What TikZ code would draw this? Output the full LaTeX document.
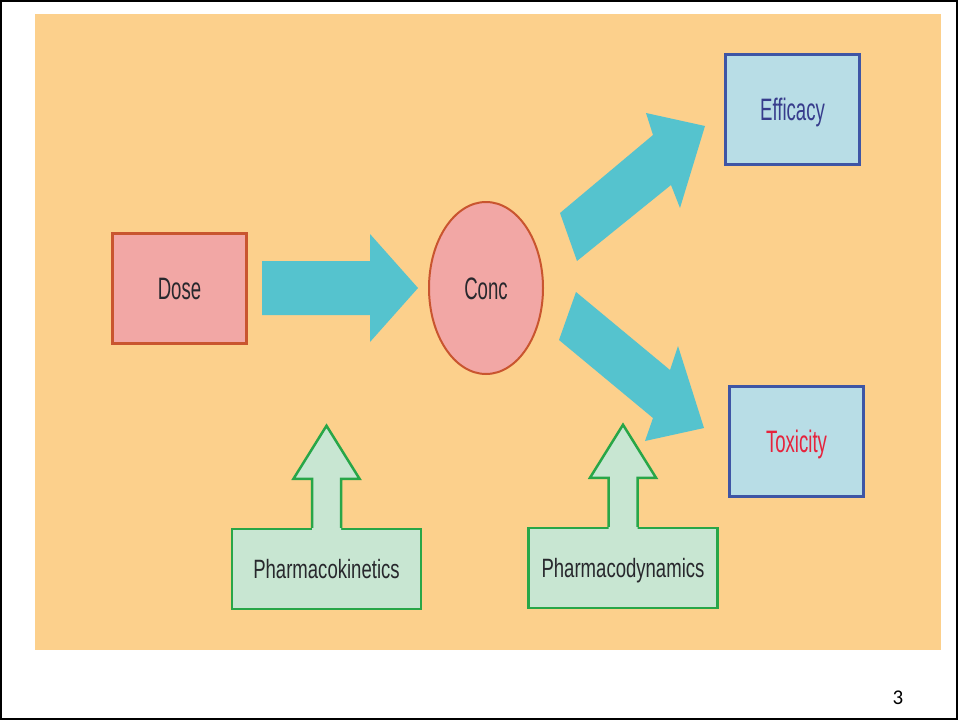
\documentclass[tikz,border=0pt]{standalone}
\usepackage{fontspec}
\setmainfont{Liberation Sans}
\newfontfamily\boxfont{Liberation Sans}[FakeStretch=0.6]
\newfontfamily\sidefont{Liberation Sans}[FakeStretch=0.7]
\newfontfamily\pagefont{Carlito}
\usepackage{xcolor}
\usepackage{tikz}
\usetikzlibrary{calc,shapes.geometric,positioning}

\definecolor{panel}{RGB}{252,208,140}
\definecolor{fatcyan}{RGB}{85,195,206}
\definecolor{dosefill}{RGB}{242,167,165}
\definecolor{doseline}{RGB}{201,85,47}
\definecolor{outfill}{RGB}{184,221,230}
\definecolor{outblue}{RGB}{62,85,165}
\definecolor{effblue}{RGB}{55,60,140}
\definecolor{toxred}{RGB}{230,35,60}
\definecolor{sidefill}{RGB}{200,230,210}
\definecolor{sideline}{RGB}{40,166,72}
\definecolor{darktext}{RGB}{40,40,45}

\tikzset{
  dosebox/.style={rectangle,draw=doseline,line width=3pt,fill=dosefill,
    minimum width=134pt,minimum height=110pt,text=darktext,
    text height=22pt,text depth=0pt,font=\boxfont\fontsize{31}{36}\selectfont},
  concell/.style={ellipse,draw=doseline,line width=2pt,fill=dosefill,inner sep=0pt,
    minimum width=114pt,minimum height=172pt,text=darktext,
    text height=22pt,text depth=0pt,font=\boxfont\fontsize{31}{36}\selectfont},
  outbox/.style={rectangle,draw=outblue,line width=3pt,fill=outfill,
    minimum width=134pt,minimum height=110pt,
    text height=22pt,text depth=0pt,font=\boxfont\fontsize{31}{36}\selectfont},
  sidebox/.style={rectangle,draw=sideline,line width=2.5pt,fill=sidefill,
    minimum width=189pt,minimum height=80pt,text=darktext,
    text height=19pt,text depth=0pt,font=\sidefont\fontsize{26.5}{31}\selectfont},
  sidearrow/.style={draw=sideline,line width=2.5pt,line join=miter},
  fatarrow/.style={fill=fatcyan}
}

\begin{document}
\begin{tikzpicture}[x=1pt,y=-1pt]
  \useasboundingbox (0,0) rectangle (958,720);
  \draw[line width=2pt] (1,1) rectangle (957,719);
  \fill[panel] (35,14) rectangle (941,650);

  \node (dose) [dosebox] at (179.5,288.5) {Dose};
  \node (conc) [concell] at (486,288) {Conc};
  \node (eff) [outbox,text=effblue] at (792.5,109.5) {Efficacy};
  \node (tox) [outbox,text=toxred] at (796.5,441) {Toxicity};
  \node (pk) [sidebox] at (326.5,569) {Pharmacokinetics};
  \node (pd) [sidebox] at (623,568) {Pharmacodynamics};

  \coordinate (conc-tip) at (418,288);
  \coordinate (eff-tip) at (705,126);
  \coordinate (tox-tip) at (704,428);

  % the three fat arrows
  \fill[fatarrow] (262,261) -- (370,261) -- (370,234) -- (conc-tip)
    -- (370,342) -- (370,315) -- (262,315) -- cycle;
  \fill[fatarrow] (560,213) -- (653,135) -- (646,113) -- (eff-tip)
    -- (680,208) -- (671,185) -- (577,261) -- cycle;
  \fill[fatarrow] (576,292) -- (670,370) -- (678,346) -- (tox-tip)
    -- (645,441) -- (653,418) -- (559,340) -- cycle;

  % green arrows grow out of the box tops
  \foreach \b in {pk,pd} {
    \fill[sidefill] ($(\b.north)+(-14.5,3)$) -- ++(0,-52) -- ++(-18.5,0)
      -- ($(\b.north)+(0,-102)$) -- ($(\b.north)+(33,-49)$) -- ++(-18.5,0)
      -- ($(\b.north)+(14.5,3)$) -- cycle;
    \draw[sidearrow] ($(\b.north)+(-14.5,0)$) -- ++(0,-49) -- ++(-18.5,0)
      -- ($(\b.north)+(0,-102)$) -- ($(\b.north)+(33,-49)$) -- ++(-18.5,0)
      -- ($(\b.north)+(14.5,0)$);
  }

  \node (page) at (898,698) {\pagefont\fontsize{21}{24}\selectfont 3};
\end{tikzpicture}
\end{document}
